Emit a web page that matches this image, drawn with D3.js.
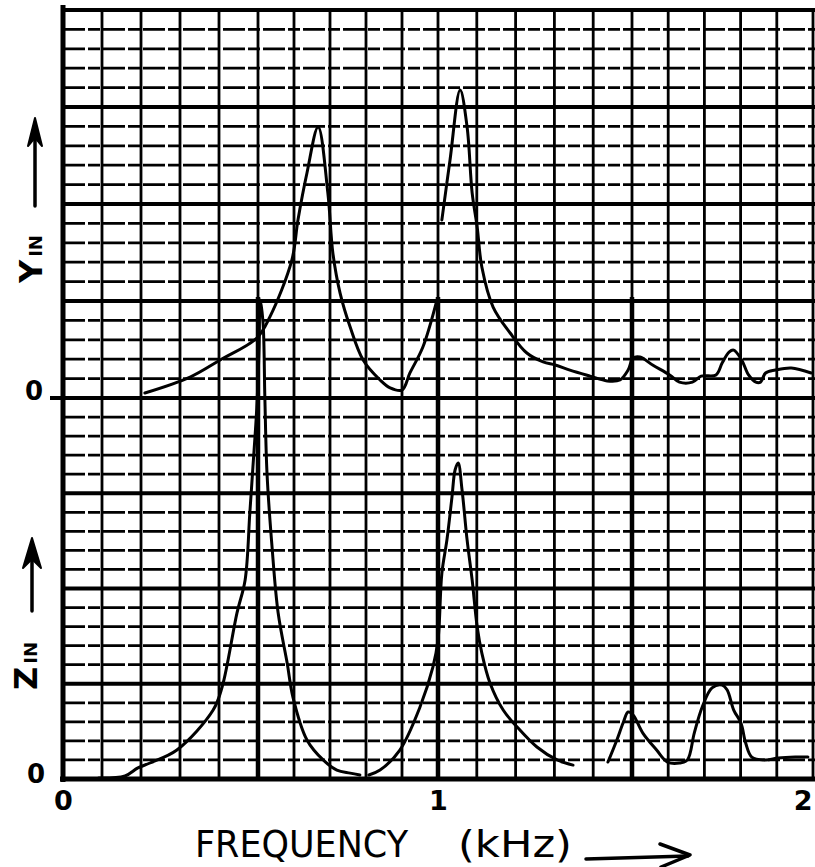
<!DOCTYPE html>
<html>
<head>
<meta charset="utf-8">
<script src="https://cdn.jsdelivr.net/npm/d3@7"></script>
<style>
  body { margin: 0; background: #fff; }
  svg { display: block; }
  text { font-family: "DejaVu Sans", sans-serif; fill: #000; }
</style>
</head>
<body>
<svg id="chart" width="815" height="867"></svg>
<script>
const width = 815,
    height = 867

// frequency in kHz, response in grid divisions above each panel's zero line
const yinSeg1F = [0.210, 0.326, 0.403, 0.497, 0.533, 0.594, 0.611, 0.636, 0.667, 0.694, 0.708, 0.728, 0.756, 0.792, 0.839, 0.867, 0.900, 0.922, 0.958, 0.997]
const yinSeg1V = [0.26, 1.08, 1.96, 3.09, 4.18, 7.11, 9.18, 11.6, 13.97, 10.57, 7.47, 5.41, 3.66, 1.96, 0.93, 0.52, 0.41, 1.29, 2.63, 5.05]
const yinSeg2F = [1.010, 1.031, 1.057, 1.075, 1.088, 1.101, 1.113, 1.142, 1.186, 1.229, 1.271, 1.302, 1.340, 1.392, 1.436, 1.469, 1.490, 1.503, 1.522, 1.557, 1.604, 1.631, 1.667, 1.691, 1.732, 1.749, 1.768, 1.781, 1.803, 1.822, 1.842, 1.855, 1.869, 1.896, 1.940, 1.995]
const yinSeg2V = [9.18, 12.27, 15.88, 13.97, 10.57, 8.81, 6.75, 4.69, 3.35, 2.32, 1.86, 1.70, 1.44, 1.13, 0.88, 0.93, 1.44, 2.06, 2.11, 1.70, 1.19, 0.82, 0.82, 1.13, 1.19, 1.80, 2.37, 2.47, 1.96, 1.19, 0.82, 0.82, 1.29, 1.44, 1.55, 1.29]

const zinSeg1F = [0.092, 0.159, 0.192, 0.223, 0.292, 0.385, 0.408, 0.446, 0.467, 0.479, 0.487, 0.497, 0.503, 0.506, 0.514, 0.519, 0.525, 0.539, 0.556, 0.581, 0.597, 0.636, 0.681, 0.719, 0.756, 0.783]
const zinSeg1V = [0.05, 0.16, 0.58, 0.84, 1.52, 3.62, 4.83, 8.71, 10.45, 13.96, 16.38, 19.53, 22.68, 25.14, 23.94, 20.05, 16.06, 12.18, 8.71, 6.09, 4.30, 2.05, 1.00, 0.47, 0.31, 0.21]
const zinSeg2F = [0.808, 0.839, 0.894, 0.950, 0.986, 1.000, 1.010, 1.023, 1.036, 1.044, 1.052, 1.062, 1.075, 1.088, 1.101, 1.113, 1.134, 1.168, 1.204, 1.255, 1.307, 1.348]
const zinSeg2V = [0.21, 0.47, 1.52, 3.78, 5.88, 7.30, 10.81, 12.55, 14.80, 16.22, 16.59, 15.17, 12.55, 10.45, 7.98, 6.61, 5.04, 3.62, 2.73, 1.68, 1.00, 0.73]
const zinSeg3F = [1.438, 1.461, 1.477, 1.490, 1.503, 1.530, 1.568, 1.598, 1.631, 1.653, 1.672, 1.694, 1.721, 1.749, 1.763, 1.781, 1.801, 1.814, 1.831, 1.869, 1.904, 1.951, 1.986]
const zinSeg3V = [0.89, 2.05, 2.94, 3.52, 3.36, 2.41, 1.52, 0.89, 0.84, 1.00, 2.41, 3.78, 4.78, 4.93, 4.67, 3.62, 2.94, 1.89, 1.15, 1.00, 1.10, 1.15, 1.15]

// the heavy verticals where Z_in runs off (poles)
const zinPoles = [0.5, 1.0, 1.5]
const zinPoleTop = 25.3

const xTicks = [0, 1, 2]
const zeroTicks = [0]

const svg = d3.select('#chart')

// hand-ruled paper: each half kHz is a little uneven
const x = d3.scaleLinear()
    .domain([0, 0.5, 1, 1.5, 2])
    .range([63, 258, 438, 632, 813])
const yUp = d3.scaleLinear().domain([0, 20]).range([398, 10])
const yLo = d3.scaleLinear().domain([0, 20]).range([779, 398])

const grid = svg.append('g').attr('class', 'grid')

// vertical rulings every 0.1 kHz
grid.selectAll('line.v')
    .data(d3.range(1, 21).map(i => i / 10))
    .enter()
    .append('line')
    .attr('class', 'v')
    .attr('x1', d => x(d)).attr('x2', d => x(d))
    .attr('y1', yUp(20)).attr('y2', yLo(0) + 2)
    .attr('stroke', '#000')
    .attr('stroke-width', 2.8)

// horizontal rulings, one per division, heavy every fifth
const drawRows = (y, name) => {
    grid.selectAll('line.' + name)
        .data(d3.range(1, 20))
        .enter()
        .append('line')
        .attr('class', name)
        .attr('x1', x(0)).attr('x2', width)
        .attr('y1', d => y(d)).attr('y2', d => y(d))
        .attr('stroke', '#000')
        .attr('stroke-width', d => d % 5 === 0 ? 3.8 : 2.8)
        .attr('stroke-dasharray', d => d % 5 === 0 ? null : '22 3 12 3')
}
drawRows(yUp, 'hu')
drawRows(yLo, 'hl')

// frame and zero lines
grid.append('line')
    .attr('x1', x(0)).attr('x2', width)
    .attr('y1', yUp(20)).attr('y2', yUp(20))
    .attr('stroke', '#000').attr('stroke-width', 4)
grid.append('line')
    .attr('x1', 50).attr('x2', width)
    .attr('y1', yUp(0)).attr('y2', yUp(0))
    .attr('stroke', '#000').attr('stroke-width', 4.2)
grid.append('line')
    .attr('x1', x(0) - 3).attr('x2', width)
    .attr('y1', yLo(0)).attr('y2', yLo(0))
    .attr('stroke', '#000').attr('stroke-width', 4.8)
grid.append('line')
    .attr('x1', x(0)).attr('x2', x(0))
    .attr('y1', 5).attr('y2', yLo(0) + 3)
    .attr('stroke', '#000').attr('stroke-width', 5)

// Z_in poles
svg.append('g')
    .selectAll('line')
    .data(zinPoles)
    .enter()
    .append('line')
    .attr('x1', d => x(d)).attr('x2', d => x(d))
    .attr('y1', yLo(0)).attr('y2', yLo(zinPoleTop))
    .attr('stroke', '#000')
    .attr('stroke-width', 4.5)

// curves
const drawCurve = (fs, vs, y) => {
    const line = d3.line()
        .x(d => x(d[0]))
        .y(d => y(d[1]))
        .curve(d3.curveCatmullRom.alpha(0.5))
    svg.append('path')
        .datum(d3.zip(fs, vs))
        .attr('d', line)
        .attr('fill', 'none')
        .attr('stroke', '#000')
        .attr('stroke-width', 3)
        .attr('stroke-linejoin', 'round')
        .attr('stroke-linecap', 'round')
}
drawCurve(yinSeg1F, yinSeg1V, yUp)
drawCurve(yinSeg2F, yinSeg2V, yUp)
drawCurve(zinSeg1F, zinSeg1V, yLo)
drawCurve(zinSeg2F, zinSeg2V, yLo)
drawCurve(zinSeg3F, zinSeg3V, yLo)

// tick labels
const xAxis = d3.axisBottom(x)
    .tickValues(xTicks)
    .tickFormat(d3.format('d'))
    .tickSize(0)
    .tickPadding(12)
svg.append('g')
    .attr('transform', `translate(0, ${yLo(0)})`)
    .call(xAxis)
    .call(g => g.select('.domain').remove())
    .selectAll('text')
    .attr('text-anchor', d => d === 2 ? 'end' : 'middle')
    .attr('dx', d => d === 2 ? '-0.04em' : 0)
    .style('font-family', '"DejaVu Sans", sans-serif')
    .style('font-size', '27px')
    .style('font-weight', 'bold')

const zeroAxis = (y, left, dy) => {
    svg.append('g')
        .attr('transform', `translate(${left}, 0)`)
        .call(d3.axisLeft(y).tickValues(zeroTicks).tickFormat(d3.format('d')).tickSize(0).tickPadding(0))
        .call(g => g.select('.domain').remove())
        .selectAll('text')
        .attr('dy', dy)
        .style('font-family', '"DejaVu Sans", sans-serif')
        .style('font-size', '26px')
        .style('font-weight', 'bold')
}
zeroAxis(yUp, 43, '0.05em')
zeroAxis(yLo, 45, '0.12em')

// axis titles
svg.append('text')
    .attr('x', 195).attr('y', 857)
    .attr('textLength', 213).attr('lengthAdjust', 'spacingAndGlyphs')
    .style('font-size', '38px')
    .text('FREQUENCY')
svg.append('text')
    .attr('x', 458).attr('y', 857)
    .attr('textLength', 114).attr('lengthAdjust', 'spacingAndGlyphs')
    .style('font-size', '38px')
    .text('(kHz)')

const yLabel = (text, px, py) => {
    const t = svg.append('text')
        .attr('transform', `translate(${px}, ${py}) rotate(-90)`)
        .style('font-size', '32px')
        .style('font-weight', 'bold')
    t.append('tspan').text(text)
    t.append('tspan').attr('dx', 3).style('font-size', '18px').text('IN')
}
yLabel('Y', 42, 283)
yLabel('Z', 37, 690)

// arrows, heads drawn as small paths at the tips
const arrow = (x1, y1, x2, y2) => {
    svg.append('line')
        .attr('x1', x1).attr('y1', y1)
        .attr('x2', x2).attr('y2', y2)
        .attr('stroke', '#000')
        .attr('stroke-width', 3.5)
        .attr('stroke-linecap', 'round')
}
const upHead = (tx, ty, len, half) => {
    svg.append('path')
        .attr('d', `M${tx},${ty} L${tx + half},${ty + len} L${tx},${ty + len * 0.7} L${tx - half},${ty + len} Z`)
        .attr('fill', '#000')
        .attr('stroke', '#000')
        .attr('stroke-width', 2)
        .attr('stroke-linejoin', 'round')
}
arrow(35, 206, 35, 125)
upHead(35, 118, 28, 7)
arrow(32, 611, 32, 545)
upHead(32, 538, 30, 9)
arrow(586, 859, 688, 856)
svg.append('path')
    .attr('d', 'M660,844 L690,855 L661,867')
    .attr('fill', 'none')
    .attr('stroke', '#000')
    .attr('stroke-width', 3.5)
    .attr('stroke-linejoin', 'round')
    .attr('stroke-linecap', 'round')
</script>
</body>
</html>
